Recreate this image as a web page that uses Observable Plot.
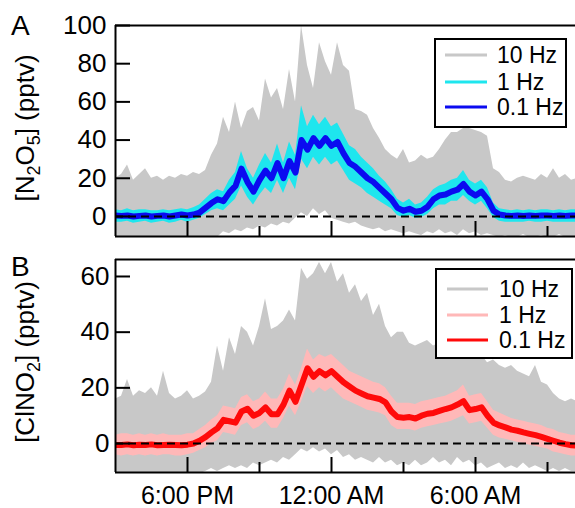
<!DOCTYPE html>
<html><head><meta charset="utf-8">
<script src="https://cdn.jsdelivr.net/npm/d3@7"></script>
<script src="https://cdn.jsdelivr.net/npm/@observablehq/plot@0.6"></script>
<style>
body{margin:0;background:#fff;}
#wrap{position:relative;width:575px;height:508px;overflow:hidden;font-family:"Liberation Sans",Arial,sans-serif;}
#wrap svg{position:absolute;left:0;}
</style></head><body><div id="wrap"></div>
<script>
// ---- time axis ----
const startTime = "2015-06-01T15:00";
const stepMinutes = 15;
const xEnd = "2015-06-02T10:10";
const majorTicks = ["2015-06-01T18:00","2015-06-02T00:00","2015-06-02T06:00"];
const majorLabels = ["6:00 PM","12:00 AM","6:00 AM"];
const minorTicks = ["2015-06-01T21:00","2015-06-02T03:00","2015-06-02T09:00"];
const yTicksA = [0,20,40,60,80,100];
const yTicksB = [0,20,40,60];
const seriesLabels = ["10 Hz","1 Hz","0.1 Hz"];

// ---- Panel A: N2O5 (pptv) ----
const aHi10 = [20,22,27,19,22,25,20,21,19,21,20,22,21,23, 22,24,32,38,52,44,60,46,55,57,50,72,62,67,56,77,60, 100,79,67,91,81,74,91,79,76,56,55,53,46,41,35, 32,30,35,28,29,32,30,31,35,40,44,44,46,46,45,44,42,25, 23,19,18,20,21,20,19,22,20,25,20,22,19,20];
const aLo10 = [-11,-11,-11,-11,-11,-11,-11,-11,-11,-11,-11,-11,-11,-11,-11,-11,-11,-11, -8,-9,-7,-8,-6,-7,-5,-6,-4,-5,-3,-4,-1, 2,0,4,1,3,-1, -2,-3,-4,-3,-5,-6,-7,-6,-8,-7,-8,-9,-8,-9, -10,-8,-9,-7,-9,-8,-10,-7,-9,-8,-10,-9,-10, -11,-10,-11,-11,-9.5,-11,-11,-10,-11,-11,-9.5,-11,-11,-11];
const aHi1 = [3.5,3,4,3,3.5,3.5,3,3,3.5,3,3.5,4,3.5,4.5, 6,9,12,14,13,19,23,34,25,20,27,33,28,38,28,39,32, 58,47,53,48,52,47,49,43,37,35,31,28,25,21,18,14, 9,7,9,6,7,10,14,16,17,19,20,24,19,17,19,15,7,4, 3.5,3,3.5,3,3.5,3,3.5,3.5,3,3.5,3,3.5,3.5];
const aLo1 = [-3,-3,-2.5,-3.5,-3,-2.5,-3.5,-3,-2.5,-3.5,-3,-2,-3,-2, -1,1,3,4,3,6,9,16,10,6,11,15,12,19,12,20,14, 30,25,31,27,31,27,29,24,19,17,15,12,10,8,6,4, 0.5,-0.5,0.5,-1,-0.5,1,4,6,6,8,8,11,8,6,8,4,-0.5,-2.5, -3,-3,-3,-3,-2.5,-3,-3,-2.5,-3,-3,-3,-3,-3];
const a01 = [0.5,0.3,0.5,0,0.3,0.5,0,0.3,0.5,0,0.5,1,0.5,1, 2,4.5,7,9,8,12.6,16,25,18,13,19,24,20,28,20,29,23, 40,35,41,37,41,37,39,33,28,26,23,20,18,15,12,9, 4.5,3,4,2.5,3,5,9,11,11.5,13,14,17,13,11,13,9,3,1, 0.5,0.3,0.5,0.2,0.5,0.3,0.5,0.5,0.3,0.5,0.3,0.5,0.5];

// ---- Panel B: ClNO2 (pptv) ----
const bHi10 = [16,17,23,17,19,18,20,17,26,18,16,17,19,16, 17,18.5,22,35,26,38,32,42,40,35,42,52,41,42,44,48,44, 63,59,61,65,61,65,58,61,54,57,51,54,46,50,42,38, 40,40,36,35,36,37,35,36,38,37,38,40,36,35,32,29,30,28, 27,28,26,25,24,28,22,21,18,16,15,16,15];
const bLo10 = [-11,-11,-11,-11,-11,-11,-11,-11,-11,-11,-11,-11,-11,-11,-11, -10,-9,-10,-9,-8,-9,-8,-9,-7,-8,-7,-6,-7,-5,-6,-4, -2,-3,-1.5,-3,-2,-4,-2.5,-5,-4,-6,-5,-6,-7,-5,-7,-6, -8,-7,-8,-6,-8,-7,-5,-7,-6,-8,-5,-7,-6,-8,-7,-9,-8,-7, -9,-8,-9,-7,-9,-8,-9,-10,-9,-10,-9,-10,-10];
const bHi1 = [3,3.5,3.5,3,3.5,3,3.5,3,3.5,3,3,3,3.5,3.5, 5,6.5,8.5,10,13.5,13,12.5,16.5,17.5,15,16,18.5,16,16,19.5,25,21, 27,34,30,32,31,32,30,28,26,25,24,23,22,21.5,20,17, 14.5,14.5,14.5,14,15,15.5,16,16.5,17,18,19,21,17,17.5,18,15,12,11, 10,9,8.5,8,7.5,7,6.5,5.5,5,4,3.5,3,3];
const bLo1 = [-4,-4.5,-4,-4.5,-4,-4.5,-4,-4.5,-4,-4,-4.5,-4.5,-4,-3.5, -2.5,-1.5,0,1,4,3.5,3,6.5,7.5,5,6,8,5.5,5.5,9,13.5,10, 15,20.5,18,20,18.5,20,18,16,15,14,13,12,11.5,11,10,6.5, 5,5,5,4.5,5.5,6,6.5,7,7.5,8,9,10,7,7.5,8,5.5,3,2, 1.5,1,0.5,0,-0.5,-1,-1.5,-2,-3,-3.5,-4,-4.5,-4.5];
const b01 = [-0.5,-0.5,-0.3,-0.6,-0.4,-0.5,-0.3,-0.6,-0.5,-0.4,-0.5,-0.6,-0.4,0, 1,2.3,4,5.5,8.5,8,7.5,11.5,12.5,10,11,13,10.5,10.5,14,19,15, 21,27,24,26,24.5,26,24,22,20.5,19,18,17,16.5,16,14.8,11.5, 9.5,9.3,9.5,9,10,10.7,11,11.7,12.4,13,14,15.2,12,12.4,13,10,7.5,6.5, 5.8,5,4.6,4,3.5,3,2.4,1.7,1,0.3,-0.2,-0.6,-0.8];

const colA = ["#c8c8c8","#1ee6ee","#0b0bf0"];
const colB = ["#c8c8c8","#ffb8b8","#ff0a0a"];

const t0 = new Date(startTime).getTime();
const times = a01.map((_, i) => new Date(t0 + i * stepMinutes * 60000));
const dA = times.map((t, i) => ({t, hi10: aHi10[i], lo10: aLo10[i], hi1: aHi1[i], lo1: aLo1[i], v: a01[i]}));
const dB = times.map((t, i) => ({t, hi10: bHi10[i], lo10: bLo10[i], hi1: bHi1[i], lo1: bLo1[i], v: b01[i]}));
const xDomain = [new Date(startTime), new Date(xEnd)];
const major = majorTicks.map(s => new Date(s));
const minor = minorTicks.map(s => new Date(s));
const labelMap = new Map(major.map((d, i) => [d.getTime(), majorLabels[i]]));

function panel(data, cols, yDomain, yTicks, opts) {
  const W = 575, ml = 115;
  const innerH = opts.height - opts.mt - opts.mb;
  const innerW = W - ml;
  const marks = [
    Plot.areaY(data, {x: "t", y1: "lo10", y2: "hi10", fill: cols[0], clip: true}),
    Plot.areaY(data, {x: "t", y1: "lo1", y2: "hi1", fill: cols[1], clip: true}),
    Plot.line(data, {x: "t", y: "v", stroke: cols[2], strokeWidth: 6, clip: true}),
    Plot.ruleY([0], {stroke: "black", strokeWidth: 2, strokeDasharray: "8,5"}),
    Plot.ruleX([xDomain[0]], {stroke: "black", strokeWidth: 2}),
    Plot.ruleY([yDomain[0], yDomain[1]], {stroke: "black", strokeWidth: 2}),
    Plot.ruleY(yTicks, {stroke: "black", strokeWidth: 2, insetRight: innerW - 15}),
    Plot.ruleX(major, {stroke: "black", strokeWidth: 2, insetTop: innerH - 15}),
    Plot.ruleX(minor, {stroke: "black", strokeWidth: 2, insetTop: innerH - 10}),
    Plot.axisY(yTicks, {tickSize: 0, tickPadding: opts.yPad, fontSize: 26, label: null})
  ];
  if (opts.xLabels) {
    marks.push(Plot.axisX(major, {tickSize: 0, tickPadding: 14, fontSize: 25, label: null, tickFormat: d => labelMap.get(d.getTime())}));
  }
  return Plot.plot({
    width: W, height: opts.height,
    marginTop: opts.mt, marginBottom: opts.mb, marginLeft: ml, marginRight: 0,
    x: {type: "time", domain: xDomain, axis: opts.xLabels ? undefined : null, label: null},
    y: {domain: yDomain, label: null},
    style: {fontFamily: "'Liberation Sans', Arial, sans-serif", fontSize: "26px", color: "black", background: "transparent", overflow: "visible"},
    marks
  });
}

const wrap = document.getElementById("wrap");
const pA = panel(dA, colA, [-10.5, 100], yTicksA, {height: 245, mt: 25, mb: 9, yPad: 9, xLabels: false});
pA.style.top = "0px";
wrap.appendChild(pA);
const pB = panel(dB, colB, [-10.4, 66.1], yTicksB, {height: 263, mt: 14, mb: 36, yPad: 6, xLabels: true});
pB.style.top = "245px";
wrap.appendChild(pB);

// ---- overlay: panel letters, axis titles, legends ----
const ov = d3.select(wrap).append("svg").attr("width", 575).attr("height", 508)
  .style("top", "0px").style("font-family", "'Liberation Sans', Arial, sans-serif");
ov.append("text").attr("x", 11).attr("y", 35).attr("font-size", 28).text("A");
ov.append("text").attr("x", 11).attr("y", 276).attr("font-size", 28).text("B");

function yTitle(x, y, size, parts) {
  const t = ov.append("text").attr("transform", `translate(${x},${y}) rotate(-90)`)
    .attr("text-anchor", "middle").attr("font-size", size);
  let prevSub = false;
  parts.forEach(([s, sub]) => {
    const ts = t.append("tspan").text(s);
    if (sub) ts.attr("font-size", 18).attr("dy", 6);
    else if (prevSub) ts.attr("dy", -6);
    prevSub = !!sub;
  });
}
yTitle(34, 128, 26, [["[N"], ["2", true], ["O"], ["5", true], ["] (pptv)"]]);
yTitle(34, 362, 26, [["[ClNO"], ["2", true], ["] (pptv)"]]);

function legend(x, y, w, h, ys, lx1, lx2, tx, cols) {
  ov.append("rect").attr("x", x).attr("y", y).attr("width", w).attr("height", h)
    .attr("fill", "white").attr("stroke", "black").attr("stroke-width", 2);
  ys.forEach((yy, i) => {
    ov.append("line").attr("x1", lx1).attr("x2", lx2).attr("y1", yy).attr("y2", yy)
      .attr("stroke", cols[i]).attr("stroke-width", 3);
    ov.append("text").attr("x", tx).attr("y", yy).attr("dy", "0.35em").attr("font-size", 23).text(seriesLabels[i]);
  });
}
legend(435, 39, 131, 88, [55, 82, 107], 445, 487, 497, colA);
legend(436, 269, 136, 89, [289, 315, 340], 447, 488, 499, colB);
</script></body></html>
